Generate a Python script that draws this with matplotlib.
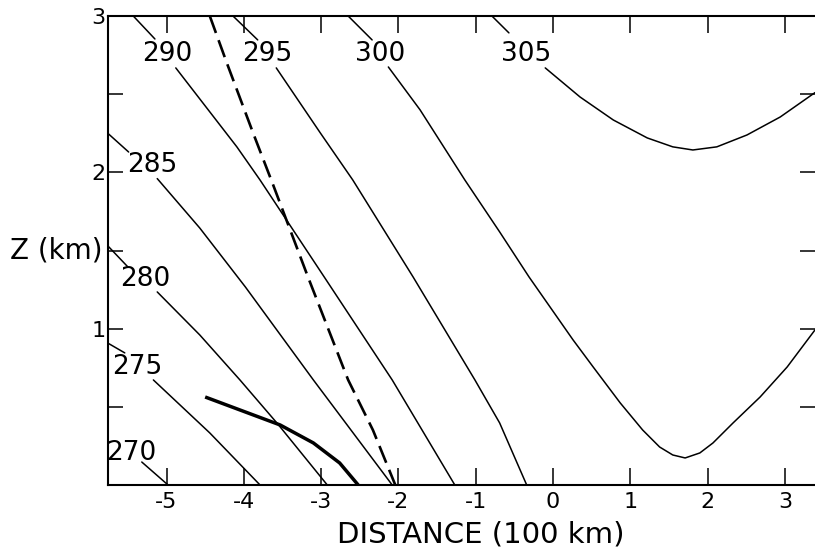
import matplotlib
matplotlib.use("Agg")
import matplotlib.pyplot as plt
import numpy as np

plt.rcParams['font.family'] = ['DejaVu Sans']
plt.rcParams['lines.scale_dashes'] = False

# ---- Data (distance in 100 km, height in km) ----
# Isentropes (potential temperature, K): each a list of segments (x, z), gap where the label sits
levels = [270, 275, 280, 285, 290, 295, 300, 305]

theta_270 = [([-5.32, -4.98], [0.147, 0.0])]
theta_275 = [([-5.76, -5.54], [0.908, 0.845]),
             ([-5.17, -4.44, -3.79], [0.672, 0.333, 0.0])]
theta_280 = [([-5.76, -5.50], [1.53, 1.395]),
             ([-5.12, -4.57, -4.05, -3.56, -2.92], [1.235, 0.96, 0.672, 0.39, 0.0])]
theta_285 = [([-5.76, -5.49], [2.25, 2.13]),
             ([-5.12, -4.57, -3.98, -3.10, -2.08], [1.96, 1.644, 1.267, 0.672, 0.0])]
theta_290 = [([-5.43, -5.15], [3.0, 2.853]),
             ([-4.88, -4.09, -3.79, -2.96, -2.08, -1.27], [2.668, 2.163, 1.951, 1.331, 0.672, 0.0])]
theta_295 = [([-4.14, -3.82], [3.0, 2.847]),
             ([-3.58, -3.01, -2.59, -1.81, -1.01, -0.69, -0.34],
              [2.668, 2.252, 1.951, 1.331, 0.672, 0.397, 0.0])]
theta_300 = [([-2.65, -2.34], [3.0, 2.847]),
             ([-2.13, -1.72, -1.14, -0.69, -0.31, 0.26, 0.52, 0.87, 1.16, 1.38, 1.55, 1.71,
               1.90, 2.07, 2.33, 2.68, 3.03, 3.39],
              [2.674, 2.40, 1.951, 1.619, 1.331, 0.928, 0.755, 0.525, 0.352, 0.243, 0.192, 0.173,
               0.205, 0.269, 0.397, 0.563, 0.755, 0.992])]
theta_305 = [([-0.79, -0.57], [3.0, 2.892]),
             ([-0.10, 0.35, 0.78, 1.22, 1.55, 1.81, 2.12, 2.51, 2.94, 3.39],
              [2.668, 2.482, 2.335, 2.220, 2.163, 2.143, 2.163, 2.239, 2.354, 2.51])]
isentropes = [theta_270, theta_275, theta_280, theta_285, theta_290, theta_295, theta_300, theta_305]

# Contour label anchor points
label_x = [-5.45, -5.38, -5.28, -5.19, -4.99, -3.70, -2.24, -0.35]
label_z = [0.205, 0.755, 1.32, 2.05, 2.76, 2.76, 2.76, 2.76]

# Dashed line
dashed_x = [-4.44, -4.22, -3.88, -3.62, -3.17, -2.65, -2.33, -2.04]
dashed_z = [3.0, 2.70, 2.252, 1.919, 1.331, 0.672, 0.352, 0.0]

# Thick solid line
thick_x = [-4.50, -3.53, -3.10, -2.76, -2.52]
thick_z = [0.563, 0.384, 0.269, 0.141, 0.0]

x_ticks = [-5, -4, -3, -2, -1, 0, 1, 2, 3]
x_ticklabels = ['-5', '-4', '-3', '-2', '-1', '0', '1', '2', '3']
y_ticks = [0, 0.5, 1, 1.5, 2, 2.5, 3]
y_ticklabels = ['', '', '1', '', '2', '', '3']

# ---- Figure ----
W, H = 815, 547
fig = plt.figure(figsize=(W / 100, H / 100), dpi=100)
ax = fig.add_axes([108 / W, 62 / H, 707 / W, 469 / H])
ax.set_xlim(-5.757, 3.39)
ax.set_ylim(0, 3)

for segs in isentropes:
    for xs, zs in segs:
        ax.plot(xs, zs, color='black', lw=1.1, solid_capstyle='round', solid_joinstyle='round')

for lev, lx, lz in zip(levels, label_x, label_z):
    ax.text(lx, lz, str(lev), ha='center', va='center', fontsize=19, color='black')

ax.plot(dashed_x, dashed_z, color='black', lw=1.9, linestyle=(0, (13, 5.5)))
ax.plot(thick_x, thick_z, color='black', lw=2.5, solid_capstyle='butt', solid_joinstyle='round')

ax.set_xticks(x_ticks)
ax.set_xticklabels(x_ticklabels)
ax.set_yticks(y_ticks)
ax.set_yticklabels(y_ticklabels)
ax.tick_params(axis='x', direction='in', length=12.5, width=1.1, top=True, bottom=True,
               labelsize=16, pad=5)
ax.tick_params(axis='y', direction='in', length=11, width=1.1, left=True, right=True,
               labelsize=16, pad=2)

for side in ['left', 'top', 'bottom']:
    ax.spines[side].set_linewidth(1.5)
ax.spines['right'].set_visible(False)

fig.text(481 / W, 1 - 534 / H, 'DISTANCE (100 km)', ha='center', va='center', fontsize=21)
fig.text(56 / W, 1 - 250 / H, 'Z (km)', ha='center', va='center', fontsize=20)

fig.savefig('out.png', dpi=100)
